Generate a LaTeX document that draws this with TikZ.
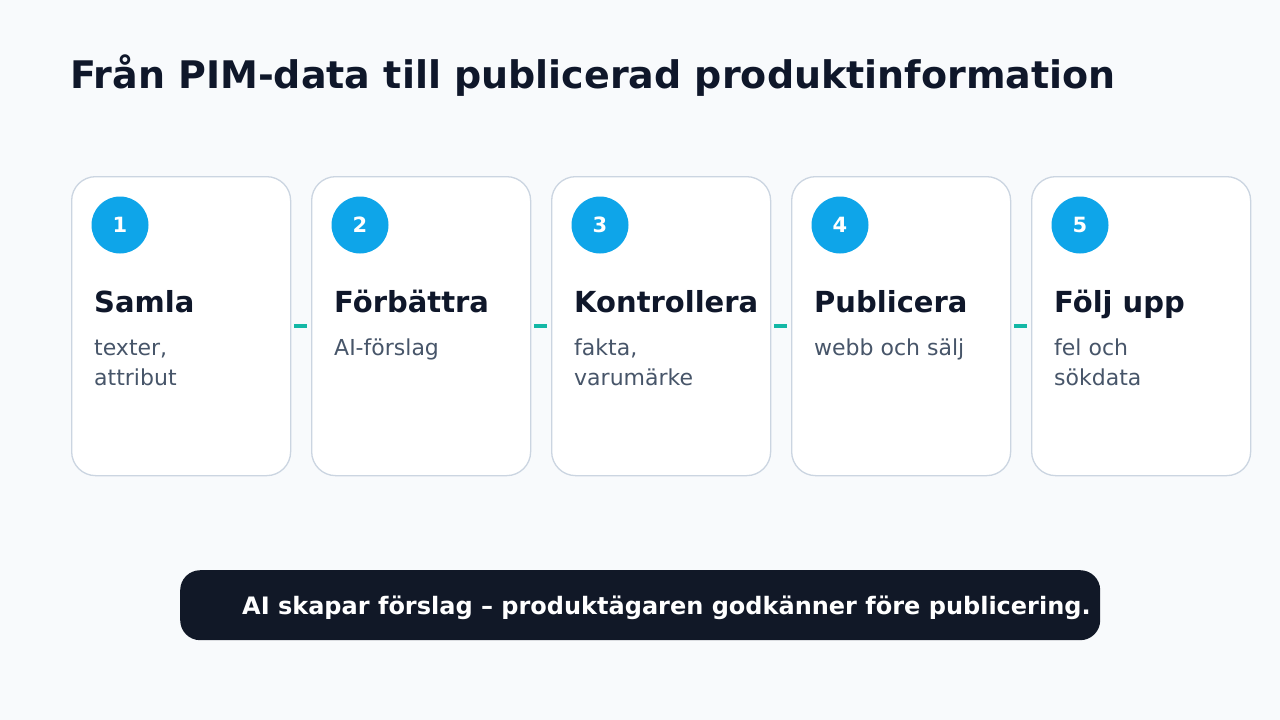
\documentclass[tikz,border=0pt]{standalone}
\usepackage{fontspec}
\setmainfont{DejaVu Sans}
\definecolor{bg}{HTML}{F8FAFC}
\definecolor{ink}{HTML}{0F172A}
\definecolor{sub}{HTML}{475569}
\definecolor{cardline}{HTML}{CBD5E1}
\definecolor{sky}{HTML}{0EA5E9}
\definecolor{teal}{HTML}{14B8A6}
\definecolor{banner}{HTML}{111827}
\begin{document}
\begin{tikzpicture}[x=1pt,y=-1pt,
  card/.style={draw=cardline,line width=1.3pt,fill=white,rounded corners=24pt,minimum width=219pt,minimum height=299pt,anchor=north west,inner sep=0pt},
  num/.style={circle,fill=sky,minimum size=57pt,inner sep=0pt,text=white,font=\bfseries\fontsize{21}{25}\selectfont},
  head/.style={anchor=base west,inner sep=0pt,text=ink,font=\bfseries\fontsize{29}{34}\selectfont},
  desc/.style={anchor=base west,inner sep=0pt,text=sub,align=left,font=\fontsize{22}{30}\selectfont},
  link/.style={draw=teal,line width=3.5pt}]
\fill[bg] (0,0) rectangle (1280,720);
\useasboundingbox (0,0) rectangle (1280,720);
\node[anchor=base west,inner sep=0pt,text=ink,font=\bfseries\fontsize{38}{42}\selectfont] (title) at (70,88) {Från PIM-data till publicerad produktinformation};
\foreach \i/\h/\d/\yb in {1/Samla/{texter,\\attribut}/385,2/Förbättra/{AI-förslag}/355,3/Kontrollera/{fakta,\\varumärke}/385,4/Publicera/{webb och sälj}/355,5/Följ upp/{fel och\\sökdata}/385}{
  \pgfmathsetmacro{\xx}{71+(\i-1)*240}
  \node[card] (c\i) at (\xx,176) {};
  \node[num] (n\i) at (\xx+49,225) {\i};
  \node[head] (h\i) at (\xx+23,312) {\h};
  \node[desc] (d\i) at (\xx+23,\yb) {\d};
}
\foreach \a/\b in {1/2,2/3,3/4,4/5}{
  \draw[link] ([xshift=3pt]c\a.east) -- ([xshift=-4pt]c\b.west);
}
\node[fill=banner,rounded corners=20pt,minimum width=920pt,minimum height=70pt,anchor=north west,inner sep=0pt] (bn) at (180,570) {};
\node[anchor=base west,inner sep=0pt,text=white,font=\bfseries\fontsize{24}{28}\selectfont] (bt) at (242,614) {AI skapar förslag – produktägaren godkänner före publicering.};
\end{tikzpicture}
\end{document}
